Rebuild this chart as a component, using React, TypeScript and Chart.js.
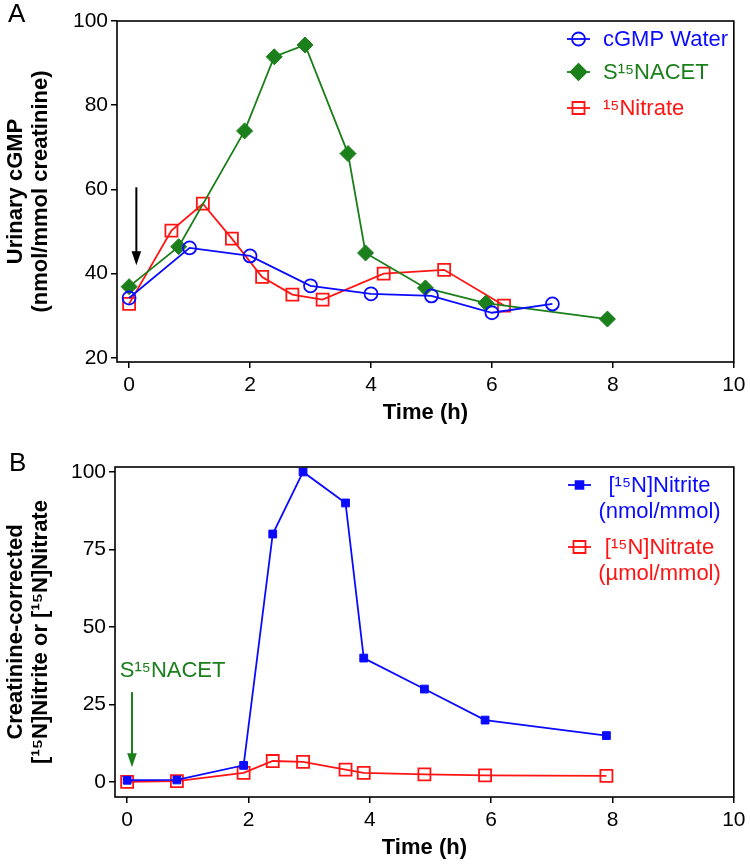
import React, { useEffect, useRef } from "react";
import { Chart, registerables } from "chart.js";

Chart.register(...registerables);

const FONT = "'Liberation Sans', Arial, Helvetica, sans-serif";
const BLUE = "#0a0aff";
const GREEN = "#1b7f1b";
const RED = "#ff1414";
const BLACK = "#000000";

// ---------- Panel A : urinary cGMP ----------
const waterTime = [0, 1, 2, 3, 4, 5, 6, 7];
const waterCgmp = [34.2, 46.1, 44.2, 37.1, 35.2, 34.7, 30.7, 32.8];
const nacetTime = [0, 0.82, 1.91, 2.4, 2.91, 3.62, 3.91, 4.9, 5.9, 7.91];
const nacetCgmp = [36.9, 46.4, 73.9, 91.5, 94.3, 68.5, 44.9, 36.6, 33.0, 29.2];
const nitrateTimeA = [0, 0.7, 1.22, 1.7, 2.2, 2.7, 3.2, 4.21, 5.21, 6.2];
const nitrateCgmp = [32.8, 50.2, 56.6, 48.3, 39.2, 35.0, 33.8, 40.0, 40.9, 32.4];
const legendA = ["cGMP Water", "S\u00b9\u2075NACET", "\u00b9\u2075Nitrate"];
const yTicksA = [20, 40, 60, 80, 100];
const yTitleA = ["Urinary cGMP", "(nmol/mmol creatinine)"];
const arrowA = { x: 0.12, from: 60.5, to: 42 };

// ---------- Panel B : [15N]nitrite / [15N]nitrate ----------
const timeB = [0, 0.82, 1.92, 2.4, 2.9, 3.6, 3.9, 4.9, 5.9, 7.9];
const nitriteB = [0.6, 0.7, 5.4, 80, 100, 90, 40, 30, 20, 15];
const nitrateB = [0.1, 0.3, 3, 6.8, 6.5, 4, 3, 2.5, 2.2, 2];
const legendB = [
  ["[\u00b9\u2075N]Nitrite", "(nmol/mmol)"],
  ["[\u00b9\u2075N]Nitrate", "(\u00b5mol/mmol)"],
];
const yTicksB = [0, 25, 50, 75, 100];
const yTitleB = ["Creatinine-corrected", "[\u00b9\u2075N]Nitrite or [\u00b9\u2075N]Nitrate"];
const annotationB = "S\u00b9\u2075NACET";
const arrowB = { x: 0.08, from: 29, to: 4.8 };
const annotationPosB = { x: 0.75, y: 36 };

// ---------- shared ----------
const xTicks = [0, 2, 4, 6, 8, 10];
const xTitle = "Time (h)";

const pts = (xs: number[], ys: number[]) => xs.map((x, i) => ({ x, y: ys[i] }));

function drawMarker(ctx: CanvasRenderingContext2D, style: string, x: number, y: number, r: number, color: string, filled: boolean, lw: number) {
  ctx.save();
  ctx.beginPath();
  if (style === "circle") ctx.arc(x, y, r, 0, Math.PI * 2);
  else if (style === "rect") {
    const h = r * Math.SQRT1_2;
    ctx.rect(x - h, y - h, 2 * h, 2 * h);
  } else {
    ctx.moveTo(x, y - r);
    ctx.lineTo(x + r, y);
    ctx.lineTo(x, y + r);
    ctx.lineTo(x - r, y);
    ctx.closePath();
  }
  if (filled) {
    ctx.fillStyle = color;
    ctx.fill();
  }
  ctx.strokeStyle = color;
  ctx.lineWidth = lw;
  ctx.stroke();
  ctx.restore();
}

function drawArrow(ctx: CanvasRenderingContext2D, x: number, y1: number, y2: number, color: string) {
  const head = 14;
  const hw = 4.8;
  ctx.save();
  ctx.strokeStyle = color;
  ctx.fillStyle = color;
  ctx.lineWidth = 2;
  ctx.beginPath();
  ctx.moveTo(x, y1);
  ctx.lineTo(x, y2 - head + 1);
  ctx.stroke();
  ctx.beginPath();
  ctx.moveTo(x - hw, y2 - head);
  ctx.lineTo(x + hw, y2 - head);
  ctx.lineTo(x, y2);
  ctx.closePath();
  ctx.fill();
  ctx.restore();
}

const framePlugin = {
  id: "frame",
  afterDraw(chart: any) {
    const { ctx, chartArea: a } = chart;
    ctx.save();
    ctx.strokeStyle = BLACK;
    ctx.lineWidth = 1.6;
    ctx.strokeRect(a.left, a.top, a.right - a.left, a.bottom - a.top);
    ctx.restore();
  },
};

function makeOptions(cfg: any) {
  return {
    responsive: false,
    maintainAspectRatio: false,
    animation: false,
    layout: { padding: cfg.padding },
    plugins: { legend: { display: false }, tooltip: { enabled: false } },
    elements: { line: { tension: 0 } },
    scales: {
      x: {
        type: "linear",
        min: cfg.xMin,
        max: cfg.xMax,
        afterBuildTicks: (s: any) => {
          s.ticks = xTicks.map((v) => ({ value: v }));
        },
        afterFit: (s: any) => {
          s.height = cfg.xHeight;
        },
        border: { display: false },
        grid: { drawOnChartArea: false, drawTicks: true, tickLength: 6, color: BLACK, lineWidth: 1.5 },
        ticks: { color: BLACK, font: { family: FONT, size: 21 }, padding: 4.5, maxRotation: 0, autoSkip: false },
        title: {
          display: true,
          text: xTitle,
          color: BLACK,
          font: { family: FONT, size: 22, weight: "bold" },
          padding: { top: 0, bottom: 0 },
        },
      },
      y: {
        type: "linear",
        min: cfg.yMin,
        max: cfg.yMax,
        afterBuildTicks: (s: any) => {
          s.ticks = cfg.yTicks.map((v: number) => ({ value: v }));
        },
        afterFit: (s: any) => {
          s.width = cfg.yWidth;
        },
        border: { display: false },
        grid: { drawOnChartArea: false, drawTicks: true, tickLength: 6, color: BLACK, lineWidth: 1.5 },
        ticks: { color: BLACK, font: { family: FONT, size: 21 }, padding: 3, autoSkip: false },
        title: {
          display: true,
          text: cfg.yTitle,
          color: BLACK,
          font: { family: FONT, size: 22, weight: "bold", lineHeight: 1.14 },
          padding: { top: 3.5, bottom: 0 },
        },
      },
    },
  };
}

export default function App() {
  const refA = useRef<HTMLCanvasElement | null>(null);
  const refB = useRef<HTMLCanvasElement | null>(null);

  useEffect(() => {
    if (!refA.current || !refB.current) return;

    const plugA = {
      id: "panelA",
      afterDraw(chart: any) {
        const { ctx, scales } = chart;
        const xs = scales.x;
        const ys = scales.y;
        ctx.save();
        ctx.fillStyle = BLACK;
        ctx.font = `26px ${FONT}`;
        ctx.textBaseline = "middle";
        ctx.textAlign = "left";
        ctx.fillText("A", 8, 15);
        ctx.restore();
        drawArrow(ctx, xs.getPixelForValue(arrowA.x), ys.getPixelForValue(arrowA.from), ys.getPixelForValue(arrowA.to), BLACK);
        const items = [
          { color: BLUE, style: "circle", r: 6.5, filled: false },
          { color: GREEN, style: "rectRot", r: 8, filled: true },
          { color: RED, style: "rect", r: 8.5, filled: false },
        ];
        const rowY = [39, 72, 108];
        items.forEach((it, i) => {
          const y = rowY[i];
          ctx.save();
          ctx.strokeStyle = it.color;
          ctx.lineWidth = 1.8;
          ctx.beginPath();
          ctx.moveTo(567, y);
          ctx.lineTo(590, y);
          ctx.stroke();
          ctx.restore();
          drawMarker(ctx, it.style, 578.5, y, it.r, it.color, it.filled, 1.8);
          ctx.save();
          ctx.fillStyle = it.color;
          ctx.font = `22px ${FONT}`;
          ctx.textBaseline = "middle";
          ctx.textAlign = "left";
          ctx.fillText(legendA[i], 603, y + 1);
          ctx.restore();
        });
      },
    };

    const plugB = {
      id: "panelB",
      afterDraw(chart: any) {
        const { ctx, scales } = chart;
        const xs = scales.x;
        const ys = scales.y;
        ctx.save();
        ctx.fillStyle = BLACK;
        ctx.font = `26px ${FONT}`;
        ctx.textBaseline = "middle";
        ctx.textAlign = "left";
        ctx.fillText("B", 9, 32);
        ctx.restore();
        drawArrow(ctx, xs.getPixelForValue(arrowB.x), ys.getPixelForValue(arrowB.from), ys.getPixelForValue(arrowB.to), GREEN);
        ctx.save();
        ctx.fillStyle = GREEN;
        ctx.font = `22px ${FONT}`;
        ctx.textBaseline = "middle";
        ctx.textAlign = "center";
        ctx.fillText(annotationB, xs.getPixelForValue(annotationPosB.x), ys.getPixelForValue(annotationPosB.y));
        ctx.restore();
        const items = [
          { color: BLUE, style: "rect", r: 5.5, filled: true },
          { color: RED, style: "rect", r: 8.5, filled: false },
        ];
        const rowY = [53, 115];
        items.forEach((it, i) => {
          const y = rowY[i];
          ctx.save();
          ctx.strokeStyle = it.color;
          ctx.lineWidth = 1.8;
          ctx.beginPath();
          ctx.moveTo(568, y);
          ctx.lineTo(591, y);
          ctx.stroke();
          ctx.restore();
          drawMarker(ctx, it.style, 579.5, y, it.r, it.color, it.filled, 1.8);
          ctx.save();
          ctx.fillStyle = it.color;
          ctx.font = `22px ${FONT}`;
          ctx.textBaseline = "middle";
          ctx.textAlign = "center";
          ctx.fillText(legendB[i][0], 659.5, y + 1);
          ctx.fillText(legendB[i][1], 659.5, y + 27);
          ctx.restore();
        });
      },
    };

    const chartA = new Chart(refA.current, {
      type: "line",
      data: {
        datasets: [
          {
            label: legendA[0],
            data: pts(waterTime, waterCgmp),
            borderColor: BLUE,
            borderWidth: 1.8,
            pointStyle: "circle",
            pointRadius: 6.5,
            pointBorderWidth: 1.8,
            pointBackgroundColor: "rgba(0,0,0,0)",
            pointBorderColor: BLUE,
          },
          {
            label: legendA[1],
            data: pts(nacetTime, nacetCgmp),
            borderColor: GREEN,
            borderWidth: 1.8,
            pointStyle: "rectRot",
            pointRadius: 8,
            pointBorderWidth: 1,
            pointBackgroundColor: GREEN,
            pointBorderColor: GREEN,
          },
          {
            label: legendA[2],
            data: pts(nitrateTimeA, nitrateCgmp),
            borderColor: RED,
            borderWidth: 1.8,
            pointStyle: "rect",
            pointRadius: 8.5,
            pointBorderWidth: 1.8,
            pointBackgroundColor: "rgba(0,0,0,0)",
            pointBorderColor: RED,
          },
        ],
      } as any,
      options: makeOptions({
        padding: { top: 21, right: 12, bottom: 6, left: 0 },
        xMin: -0.2,
        xMax: 10,
        yMin: 19,
        yMax: 100,
        yTicks: yTicksA,
        yTitle: yTitleA,
        yWidth: 117,
        xHeight: 64,
      }) as any,
      plugins: [framePlugin, plugA],
    });

    const chartB = new Chart(refB.current, {
      type: "line",
      data: {
        datasets: [
          {
            label: legendB[0].join(" "),
            data: pts(timeB, nitriteB),
            borderColor: BLUE,
            borderWidth: 1.8,
            pointStyle: "rect",
            pointRadius: 5.5,
            pointBorderWidth: 1,
            pointBackgroundColor: BLUE,
            pointBorderColor: BLUE,
          },
          {
            label: legendB[1].join(" "),
            data: pts(timeB, nitrateB),
            borderColor: RED,
            borderWidth: 1.8,
            pointStyle: "rect",
            pointRadius: 8.5,
            pointBorderWidth: 1.8,
            pointBackgroundColor: "rgba(0,0,0,0)",
            pointBorderColor: RED,
          },
        ],
      } as any,
      options: makeOptions({
        padding: { top: 35, right: 13, bottom: 3, left: 0 },
        xMin: -0.2,
        xMax: 10,
        yMin: -4.8,
        yMax: 101.6,
        yTicks: yTicksB,
        yTitle: yTitleB,
        yWidth: 115,
        xHeight: 64,
      }) as any,
      plugins: [framePlugin, plugB],
    });

    return () => {
      chartA.destroy();
      chartB.destroy();
    };
  }, []);

  return (
    <div style={{ position: "absolute", left: 0, top: 0, width: 750, height: 864, background: "#fff" }}>
      <canvas ref={refA} width={750} height={432} style={{ position: "absolute", left: 0, top: 0, display: "block" }} />
      <canvas ref={refB} width={750} height={432} style={{ position: "absolute", left: 0, top: 432, display: "block" }} />
    </div>
  );
}
